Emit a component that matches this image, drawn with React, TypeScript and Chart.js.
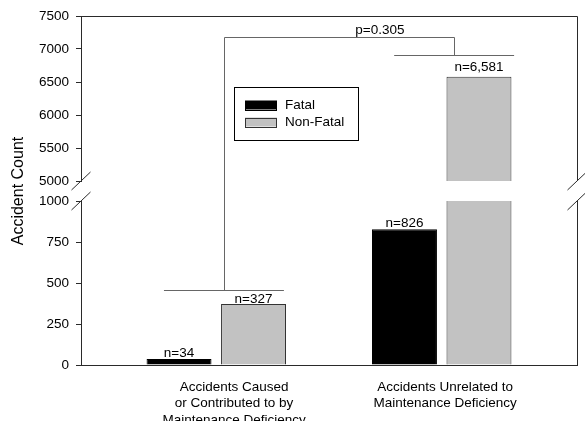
import { useEffect, useRef } from 'react';
import { Chart, registerables } from 'chart.js';

Chart.register(...registerables);

// ---------------- data ----------------
const CATEGORIES: string[][] = [
  ['Accidents Caused', 'or Contributed to by', 'Maintenance Deficiency'],
  ['Accidents Unrelated to', 'Maintenance Deficiency'],
];
const SERIES = ['Fatal', 'Non-Fatal'];
const FATAL = [36, 827];
const NON_FATAL = [372, 6580];
const FATAL_LABELS = ['n=34', 'n=826'];
const NON_FATAL_LABELS = ['n=327', 'n=6,581'];
const LOWER_TICKS = [0, 250, 500, 750, 1000];
const UPPER_TICKS = [5000, 5500, 6000, 6500, 7000, 7500];
const Y_TITLE = 'Accident Count';
const P_LABEL = 'p=0.305';

// ---------------- layout / style ----------------
const FONT = '"Liberation Sans", Arial, sans-serif';
const AXIS = '#2a2a2a';
const BRACKET_COLOR = '#666666';
const BLACK = '#000000';
const GRAY = '#c2c2c2';
const EDGE = '#333333';
const X_MIN = -0.6;
const X_MAX = 1.6;
const LABEL_SHIFT = [0.079, 0.015];
const CAT_PCT = 0.706;
const BAR_PCT = 0.872;
const LABEL_GAP = [
  [2, 2],
  [1, 6],
];
// bracket (scale values)
const BRACKET_X = [0.034, 1.055];
const BRACKET_HALF = 0.266;
const BRACKET_LOW = 457; // on lower scale
const BRACKET_ARM = 6909; // on upper scale
const BRACKET_TOP = 7182; // on upper scale
const P_X = 0.726;
const P_Y = 7227;

const LOWER_MAX = LOWER_TICKS[LOWER_TICKS.length - 1];
const UPPER_MIN = UPPER_TICKS[0];

const lowerPart = (v: number) => Math.min(v, LOWER_MAX);
const upperPart = (v: number) => (v > UPPER_MIN ? [UPPER_MIN, v] : null);

const px = (v: number) => Math.round(v) + 0.5;

const decorPlugin = {
  id: 'decor',
  afterDatasetsDraw(chart: any) {
    const { ctx, chartArea: a, scales } = chart;
    const xs = scales.x;
    const hi = scales.yHigh;
    const lo = scales.yLow;
    ctx.save();

    // frame (top + right, broken at the gap)
    ctx.strokeStyle = AXIS;
    ctx.lineWidth = 1;
    ctx.beginPath();
    ctx.moveTo(px(a.left), px(a.top));
    ctx.lineTo(px(a.right), px(a.top));
    ctx.lineTo(px(a.right), hi.bottom);
    ctx.moveTo(px(a.right), lo.top);
    ctx.lineTo(px(a.right), a.bottom);
    ctx.stroke();

    // break marks
    ctx.beginPath();
    for (const x of [a.left, a.right]) {
      for (const y of [hi.bottom, lo.top]) {
        ctx.moveTo(x - 9.5, y + 9);
        ctx.lineTo(x + 9.5, y - 9);
      }
    }
    ctx.stroke();

    // significance bracket
    ctx.strokeStyle = BRACKET_COLOR;
    ctx.beginPath();
    const xl = px(xs.getPixelForValue(BRACKET_X[0]));
    const xr = px(xs.getPixelForValue(BRACKET_X[1]));
    const yLowArm = px(lo.getPixelForValue(BRACKET_LOW));
    const yHighArm = px(hi.getPixelForValue(BRACKET_ARM));
    const yTop = px(hi.getPixelForValue(BRACKET_TOP));
    ctx.moveTo(xs.getPixelForValue(BRACKET_X[0] - BRACKET_HALF), yLowArm);
    ctx.lineTo(xs.getPixelForValue(BRACKET_X[0] + BRACKET_HALF), yLowArm);
    ctx.moveTo(xl, yLowArm);
    ctx.lineTo(xl, yTop);
    ctx.lineTo(xr, yTop);
    ctx.lineTo(xr, yHighArm);
    ctx.moveTo(xs.getPixelForValue(BRACKET_X[1] - BRACKET_HALF), yHighArm);
    ctx.lineTo(xs.getPixelForValue(BRACKET_X[1] + BRACKET_HALF), yHighArm);
    ctx.stroke();

    ctx.font = `13.5px ${FONT}`;
    ctx.fillStyle = '#000';
    ctx.textAlign = 'center';
    ctx.textBaseline = 'alphabetic';
    ctx.fillText(P_LABEL, xs.getPixelForValue(P_X), hi.getPixelForValue(P_Y));

    // n= labels
    const groups: [number[], string[], number, number][] = [
      [FATAL, FATAL_LABELS, 0, 2],
      [NON_FATAL, NON_FATAL_LABELS, 1, 3],
    ];
    groups.forEach(([vals, labels, lowIdx, highIdx], s) => {
      vals.forEach((v, i) => {
        const ds = v > UPPER_MIN ? highIdx : lowIdx;
        const el = chart.getDatasetMeta(ds).data[i];
        if (!el) return;
        ctx.fillText(labels[i], el.x, el.y - LABEL_GAP[s][i]);
      });
    });

    // legend
    const lx = a.left + 153;
    const ly = a.top + 71;
    ctx.fillStyle = '#fff';
    ctx.fillRect(lx, ly, 124, 53);
    ctx.strokeStyle = BLACK;
    ctx.strokeRect(px(lx), px(ly), 124, 53);
    const fills = [BLACK, GRAY];
    const edges = [BLACK, EDGE];
    SERIES.forEach((name, k) => {
      const cy = ly + 18 + k * 17;
      ctx.fillStyle = fills[k];
      ctx.fillRect(lx + 11, cy - 4.5, 32, 9);
      ctx.strokeStyle = edges[k];
      ctx.strokeRect(px(lx + 11), px(cy - 4.5), 31, 9);
      ctx.fillStyle = '#000';
      ctx.textAlign = 'left';
      ctx.textBaseline = 'middle';
      ctx.fillText(name, lx + 51, cy + 0.5);
    });

    ctx.restore();
  },
};

const tickFont = { family: FONT, size: 13.5 };

const yCommon = {
  type: 'linear' as const,
  position: 'left' as const,
  stack: 'y',
  stacked: false,
  offset: false,
  grid: { display: true, drawOnChartArea: false, drawTicks: true, tickLength: 5, color: AXIS, lineWidth: 1 },
  border: { display: true, color: AXIS, width: 1 },
};

export default function App() {
  const ref = useRef<HTMLCanvasElement>(null);
  useEffect(() => {
    const brokenLow = (vals: number[]) => (c: any) =>
      vals[c.dataIndex] > LOWER_MAX ? { left: 1, right: 1, top: 0, bottom: 0 } : 1;
    const chart = new Chart(ref.current as HTMLCanvasElement, {
      type: 'bar',
      data: {
        datasets: [
          {
            label: SERIES[0],
            data: FATAL.map((v, i) => ({ x: i, y: lowerPart(v) })) as any,
            yAxisID: 'yLow',
            stack: 's0',
            backgroundColor: BLACK,
            borderColor: BLACK,
            borderWidth: brokenLow(FATAL) as any,
          },
          {
            label: SERIES[1],
            data: NON_FATAL.map((v, i) => ({ x: i, y: lowerPart(v) })) as any,
            yAxisID: 'yLow',
            stack: 's1',
            backgroundColor: GRAY,
            borderColor: EDGE,
            borderWidth: brokenLow(NON_FATAL) as any,
          },
          {
            label: SERIES[0] + ' (upper)',
            data: FATAL.map((v, i) => ({ x: i, y: upperPart(v) })) as any,
            yAxisID: 'yHigh',
            stack: 's0',
            backgroundColor: BLACK,
            borderColor: BLACK,
            borderWidth: 1,
          },
          {
            label: SERIES[1] + ' (upper)',
            data: NON_FATAL.map((v, i) => ({ x: i, y: upperPart(v) })) as any,
            yAxisID: 'yHigh',
            stack: 's1',
            backgroundColor: GRAY,
            borderColor: EDGE,
            borderWidth: 1,
          },
        ],
      },
      options: {
        responsive: false,
        animation: false,
        layout: { padding: { left: 5, right: 8, top: 16, bottom: 0 } },
        datasets: { bar: { categoryPercentage: CAT_PCT, barPercentage: BAR_PCT } },
        plugins: { legend: { display: false }, tooltip: { enabled: false } },
        scales: {
          x: {
            type: 'linear',
            min: X_MIN,
            max: X_MAX,
            offset: false,
            stacked: true,
            grid: { display: false, offset: false },
            border: { display: true, color: AXIS, width: 1 },
            ticks: {
              autoSkip: false,
              maxRotation: 0,
              padding: 6,
              color: '#000',
              font: { ...tickFont, lineHeight: 1.22 },
              callback: (_v: any, i: number) => CATEGORIES[i],
            },
            afterBuildTicks: (s: any) => {
              s.ticks = CATEGORIES.map((_, i) => ({ value: i + LABEL_SHIFT[i] }));
            },
            afterFit: (s: any) => {
              s.height = 56;
            },
          },
          yHigh: {
            ...yCommon,
            weight: 3,
            stackWeight: 165,
            min: UPPER_MIN,
            max: UPPER_TICKS[UPPER_TICKS.length - 1],
            afterBuildTicks: (s: any) => {
              s.ticks = UPPER_TICKS.map((v) => ({ value: v }));
            },
            ticks: { autoSkip: false, padding: 7, color: '#000', font: tickFont, callback: (v: any) => String(v) },
          },
          yGap: {
            type: 'linear',
            position: 'left',
            stack: 'y',
            weight: 2,
            stackWeight: 20,
            min: 0,
            max: 1,
            ticks: { display: false },
            grid: { display: false },
            border: { display: false },
            title: {
              display: true,
              text: Y_TITLE,
              color: '#000',
              font: { family: FONT, size: 16 },
              padding: { top: 4, bottom: 4 },
            },
            afterFit: (s: any) => {
              s.width = 76;
            },
          },
          yLow: {
            ...yCommon,
            weight: 1,
            stackWeight: 164,
            min: 0,
            max: LOWER_MAX,
            afterBuildTicks: (s: any) => {
              s.ticks = LOWER_TICKS.map((v) => ({ value: v }));
            },
            ticks: { autoSkip: false, padding: 7, color: '#000', font: tickFont, callback: (v: any) => String(v) },
          },
        } as any,
      },
      plugins: [decorPlugin],
    });
    return () => chart.destroy();
  }, []);

  return (
    <div style={{ position: 'absolute', left: 0, top: 0, width: 585, height: 421, background: '#fff' }}>
      <canvas ref={ref} width={585} height={421} style={{ display: 'block' }} />
    </div>
  );
}
